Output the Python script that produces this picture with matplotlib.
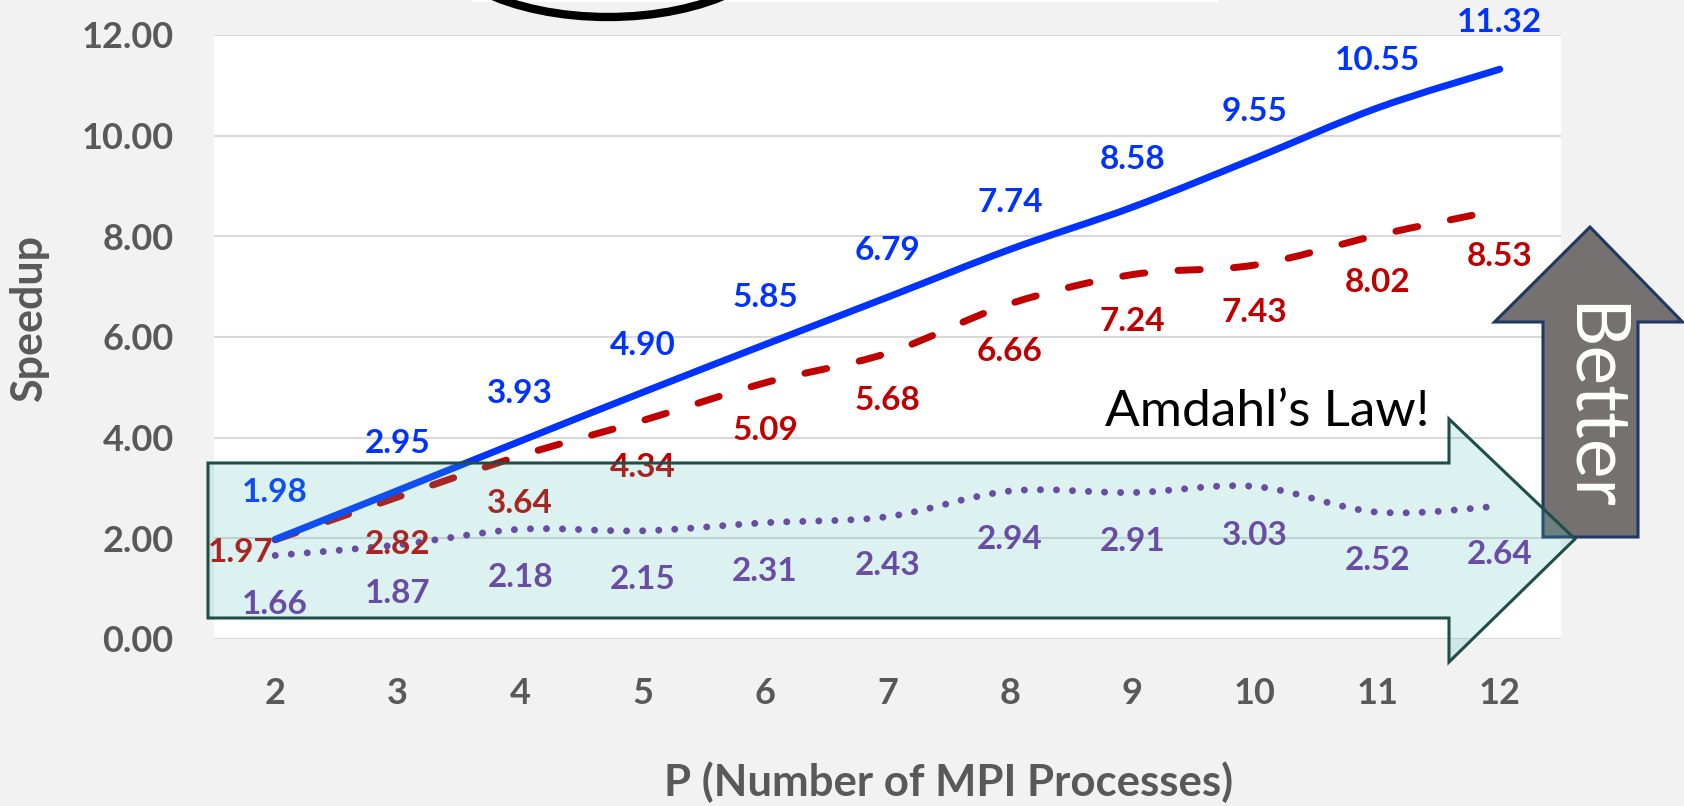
import numpy as np
import matplotlib.pyplot as plt
from matplotlib.path import Path
from matplotlib.patches import PathPatch, Polygon, Ellipse, Rectangle

# data
procs = [2, 3, 4, 5, 6, 7, 8, 9, 10, 11, 12]
speedup_blue = [1.98, 2.95, 3.93, 4.90, 5.85, 6.79, 7.74, 8.58, 9.55, 10.55, 11.32]
speedup_red = [1.97, 2.82, 3.64, 4.34, 5.09, 5.68, 6.66, 7.24, 7.43, 8.02, 8.53]
speedup_purple = [1.66, 1.87, 2.18, 2.15, 2.31, 2.43, 2.94, 2.91, 3.03, 2.52, 2.64]
yticks = [0, 2, 4, 6, 8, 10, 12]

BLUE = '#0033ff'
RED = '#c00000'
PURPLE = '#7030a0'
GREY_TXT = '#595959'
FONT = 'Lato'

W, H = 1684, 806
plt.rcParams['font.family'] = [FONT, 'DejaVu Sans']


def smooth_path(xs, ys):
    # excel-style smoothed line (catmull-rom as bezier segments)
    pts = np.column_stack([xs, ys]).astype(float)
    verts = [pts[0]]
    codes = [Path.MOVETO]
    n = len(pts)
    for i in range(n - 1):
        p0 = pts[i - 1] if i > 0 else pts[i]
        p1, p2 = pts[i], pts[i + 1]
        p3 = pts[i + 2] if i + 2 < n else pts[i + 1]
        verts += [p1 + (p2 - p0) / 6, p2 - (p3 - p1) / 6, p2]
        codes += [Path.CURVE4] * 3
    return Path(verts, codes)


def px(x, y):
    # figure pixel (from top-left) -> figure fraction
    return (x / W, 1 - y / H)


fig = plt.figure(figsize=(W / 100, H / 100), dpi=100, facecolor='#f2f2f2')
ax = fig.add_axes([214 / W, 1 - 639 / H, (1561 - 214) / W, (639 - 35) / H])
ax.set_facecolor('white')

ax.set_xlim(1.5, 12.5)
ax.set_ylim(0, 12)
ax.set_yticks(yticks)
ax.set_yticklabels(['%.2f' % v for v in yticks])
ax.set_xticks(procs)
ax.set_xticklabels([str(p) for p in procs])
ax.grid(axis='y', color='#d9d9d9', lw=1.5)
ax.set_axisbelow(True)
for s in ax.spines.values():
    s.set_visible(False)
ax.tick_params(length=0, labelsize=26, labelcolor=GREY_TXT)
ax.tick_params(axis='y', pad=29)
ax.tick_params(axis='x', pad=27)
for t in ax.get_xticklabels() + ax.get_yticklabels():
    t.set_fontweight('bold')

ax.set_ylabel('Speedup', fontsize=31, fontweight='bold', color=GREY_TXT)
ax.yaxis.set_label_coords(-0.137, 0.531)
ax.yaxis.label.set_va('center')
ax.set_xlabel('P (Number of MPI Processes)', fontsize=31.5, fontweight='bold', color=GREY_TXT)
ax.xaxis.set_label_coords(0.545, -0.237)
ax.xaxis.label.set_va('center')

# lines
ax.add_patch(PathPatch(smooth_path(procs, speedup_blue), fill=False, ec=BLUE, lw=5,
                       capstyle='round', joinstyle='round', zorder=3))
ax.add_patch(PathPatch(smooth_path(procs, speedup_red), fill=False, ec=RED, lw=5,
                       ls=(0, (3.2, 4.8)), capstyle='round', zorder=2))
ax.add_patch(PathPatch(smooth_path(procs, speedup_purple), fill=False, ec=PURPLE, lw=5,
                       ls=(0, (0.01, 2.3)), capstyle='round', zorder=2))

# data labels
lab = dict(fontsize=24, fontweight='bold', ha='center', va='center', textcoords='offset points')
for x, v in zip(procs, speedup_blue):
    ax.annotate('%.2f' % v, (x, v), xytext=(0, 34), color=BLUE, **lab)
for i, (x, v) in enumerate(zip(procs, speedup_red)):
    if i == 0:
        ax.annotate('%.2f' % v, (x, v), xytext=(-1, -9), color=RED,
                    **{**lab, 'ha': 'right'})
    else:
        ax.annotate('%.2f' % v, (x, v), xytext=(0, -34), color=RED, **lab)
for x, v in zip(procs, speedup_purple):
    ax.annotate('%.2f' % v, (x, v), xytext=(0, -35), color=PURPLE, **lab)

# "Better" arrow
better = [px(1543, 537), px(1638, 537), px(1638, 322), px(1682.5, 322),
          px(1590, 227), px(1494.5, 322), px(1543, 322)]
fig.add_artist(Polygon(better, closed=True, fc='#767171', ec='#1f3864', lw=2.2, zorder=5))
fig.text(1591 / W, 1 - 407 / H, 'Better', rotation=-90, color='white', fontsize=54,
         fontweight='normal', ha='center', va='center', zorder=5.5)

# big teal arrow (drawn on top, translucent)
big = [px(208, 463), px(1449, 463), px(1449, 419), px(1575, 539),
       px(1449, 662), px(1449, 618), px(208, 618)]
fig.add_artist(Polygon(big, closed=True, fc=(80 / 255, 190 / 255, 180 / 255, 0.2),
                       ec='#1f4e4a', lw=2.2, zorder=6))
fig.text(1105 / W, 1 - 426 / H, 'Amdahl\u2019s Law!', fontsize=37, color='black',
         ha='left', va='baseline', zorder=6)

# clipped shape at the top of the slide
fig.add_artist(Rectangle(px(473, 2), (1218 - 473) / W, 2 / H, fc='white', ec='none', zorder=4))
fig.add_artist(Ellipse(px(608, -73), 360 / W, 180 / H, fill=False, ec='black', lw=6, zorder=4))

fig.savefig('out.png', dpi=100, facecolor=fig.get_facecolor())
